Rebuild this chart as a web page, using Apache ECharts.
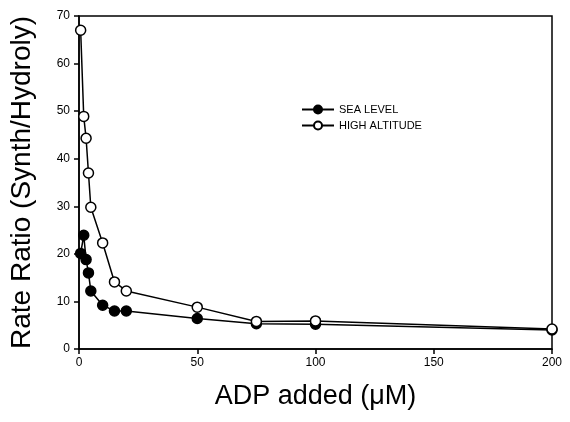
<!DOCTYPE html>
<html><head><meta charset="utf-8">
<script src="https://cdn.jsdelivr.net/npm/echarts@6/dist/echarts.min.js"></script>
<style>html,body{margin:0;padding:0;background:#fff}#c{width:570px;height:422px}</style>
</head><body><div id="c"></div>
<script>
var seaX = [0.7, 2, 3, 4, 5, 10, 15, 20, 50, 75, 100, 200];
var seaY = [20.1, 23.9, 18.8, 16.0, 12.2, 9.2, 8.0, 8.0, 6.4, 5.3, 5.2, 4.0];
var highX = [0.7, 2, 3, 4, 5, 10, 15, 20, 50, 75, 100, 200];
var highY = [67.0, 48.9, 44.3, 37.0, 29.8, 22.3, 14.1, 12.2, 8.8, 5.8, 5.9, 4.2];
var xTicks = [0, 50, 100, 150, 200];
var yTicks = [0, 10, 20, 30, 40, 50, 60, 70];

function pairs(xs, ys){ return xs.map(function(x,i){return [x, ys[i]];}); }
var chart = echarts.init(document.getElementById('c'));
var axisCommon = {
  axisLine:{show:true, onZero:false, lineStyle:{color:'#000', width:1.5}},
  axisTick:{show:true, inside:false, length:5, lineStyle:{color:'#000', width:1.5}},
  splitLine:{show:false},
  axisLabel:{color:'#000', fontFamily:'Liberation Sans, Arial', fontSize:12}
};
chart.setOption({
  animation:false,
  grid:{left:79, right:18, top:16, bottom:73, show:true, borderColor:'#000', borderWidth:1.5},
  legend:{
    left:296, top:99, orient:'vertical', itemGap:5, itemWidth:32, itemHeight:10,
    textStyle:{color:'#000', fontFamily:'Liberation Sans, Arial', fontSize:11},
    data:['SEA LEVEL','HIGH ALTITUDE']
  },
  xAxis:Object.assign({}, axisCommon, {
    type:'value', min:xTicks[0], max:xTicks[xTicks.length-1], interval:50,
    name:'ADP added (\u03bcM)', nameLocation:'middle', nameGap:34,
    nameTextStyle:{color:'#000', fontFamily:'Liberation Sans, Arial', fontSize:27},
    axisLabel:Object.assign({}, axisCommon.axisLabel, {margin:8})
  }),
  yAxis:Object.assign({}, axisCommon, {
    type:'value', min:yTicks[0], max:yTicks[yTicks.length-1], interval:10,
    name:'Rate Ratio (Synth/Hydroly)', nameLocation:'middle', nameGap:43,
    nameTextStyle:{color:'#000', fontFamily:'Liberation Sans, Arial', fontSize:28},
    axisLabel:Object.assign({}, axisCommon.axisLabel, {margin:9})
  }),
  series:[
    {name:'SEA LEVEL', type:'line', data:pairs(seaX, seaY), symbol:'circle', symbolSize:10,
     lineStyle:{color:'#000', width:1.5}, itemStyle:{color:'#000', borderColor:'#000', borderWidth:1.5}, z:3},
    {name:'HIGH ALTITUDE', type:'line', data:pairs(highX, highY), symbol:'circle', symbolSize:10,
     lineStyle:{color:'#000', width:1.5}, itemStyle:{color:'#fff', borderColor:'#000', borderWidth:1.5}, z:4}
  ]
});
</script></body></html>
